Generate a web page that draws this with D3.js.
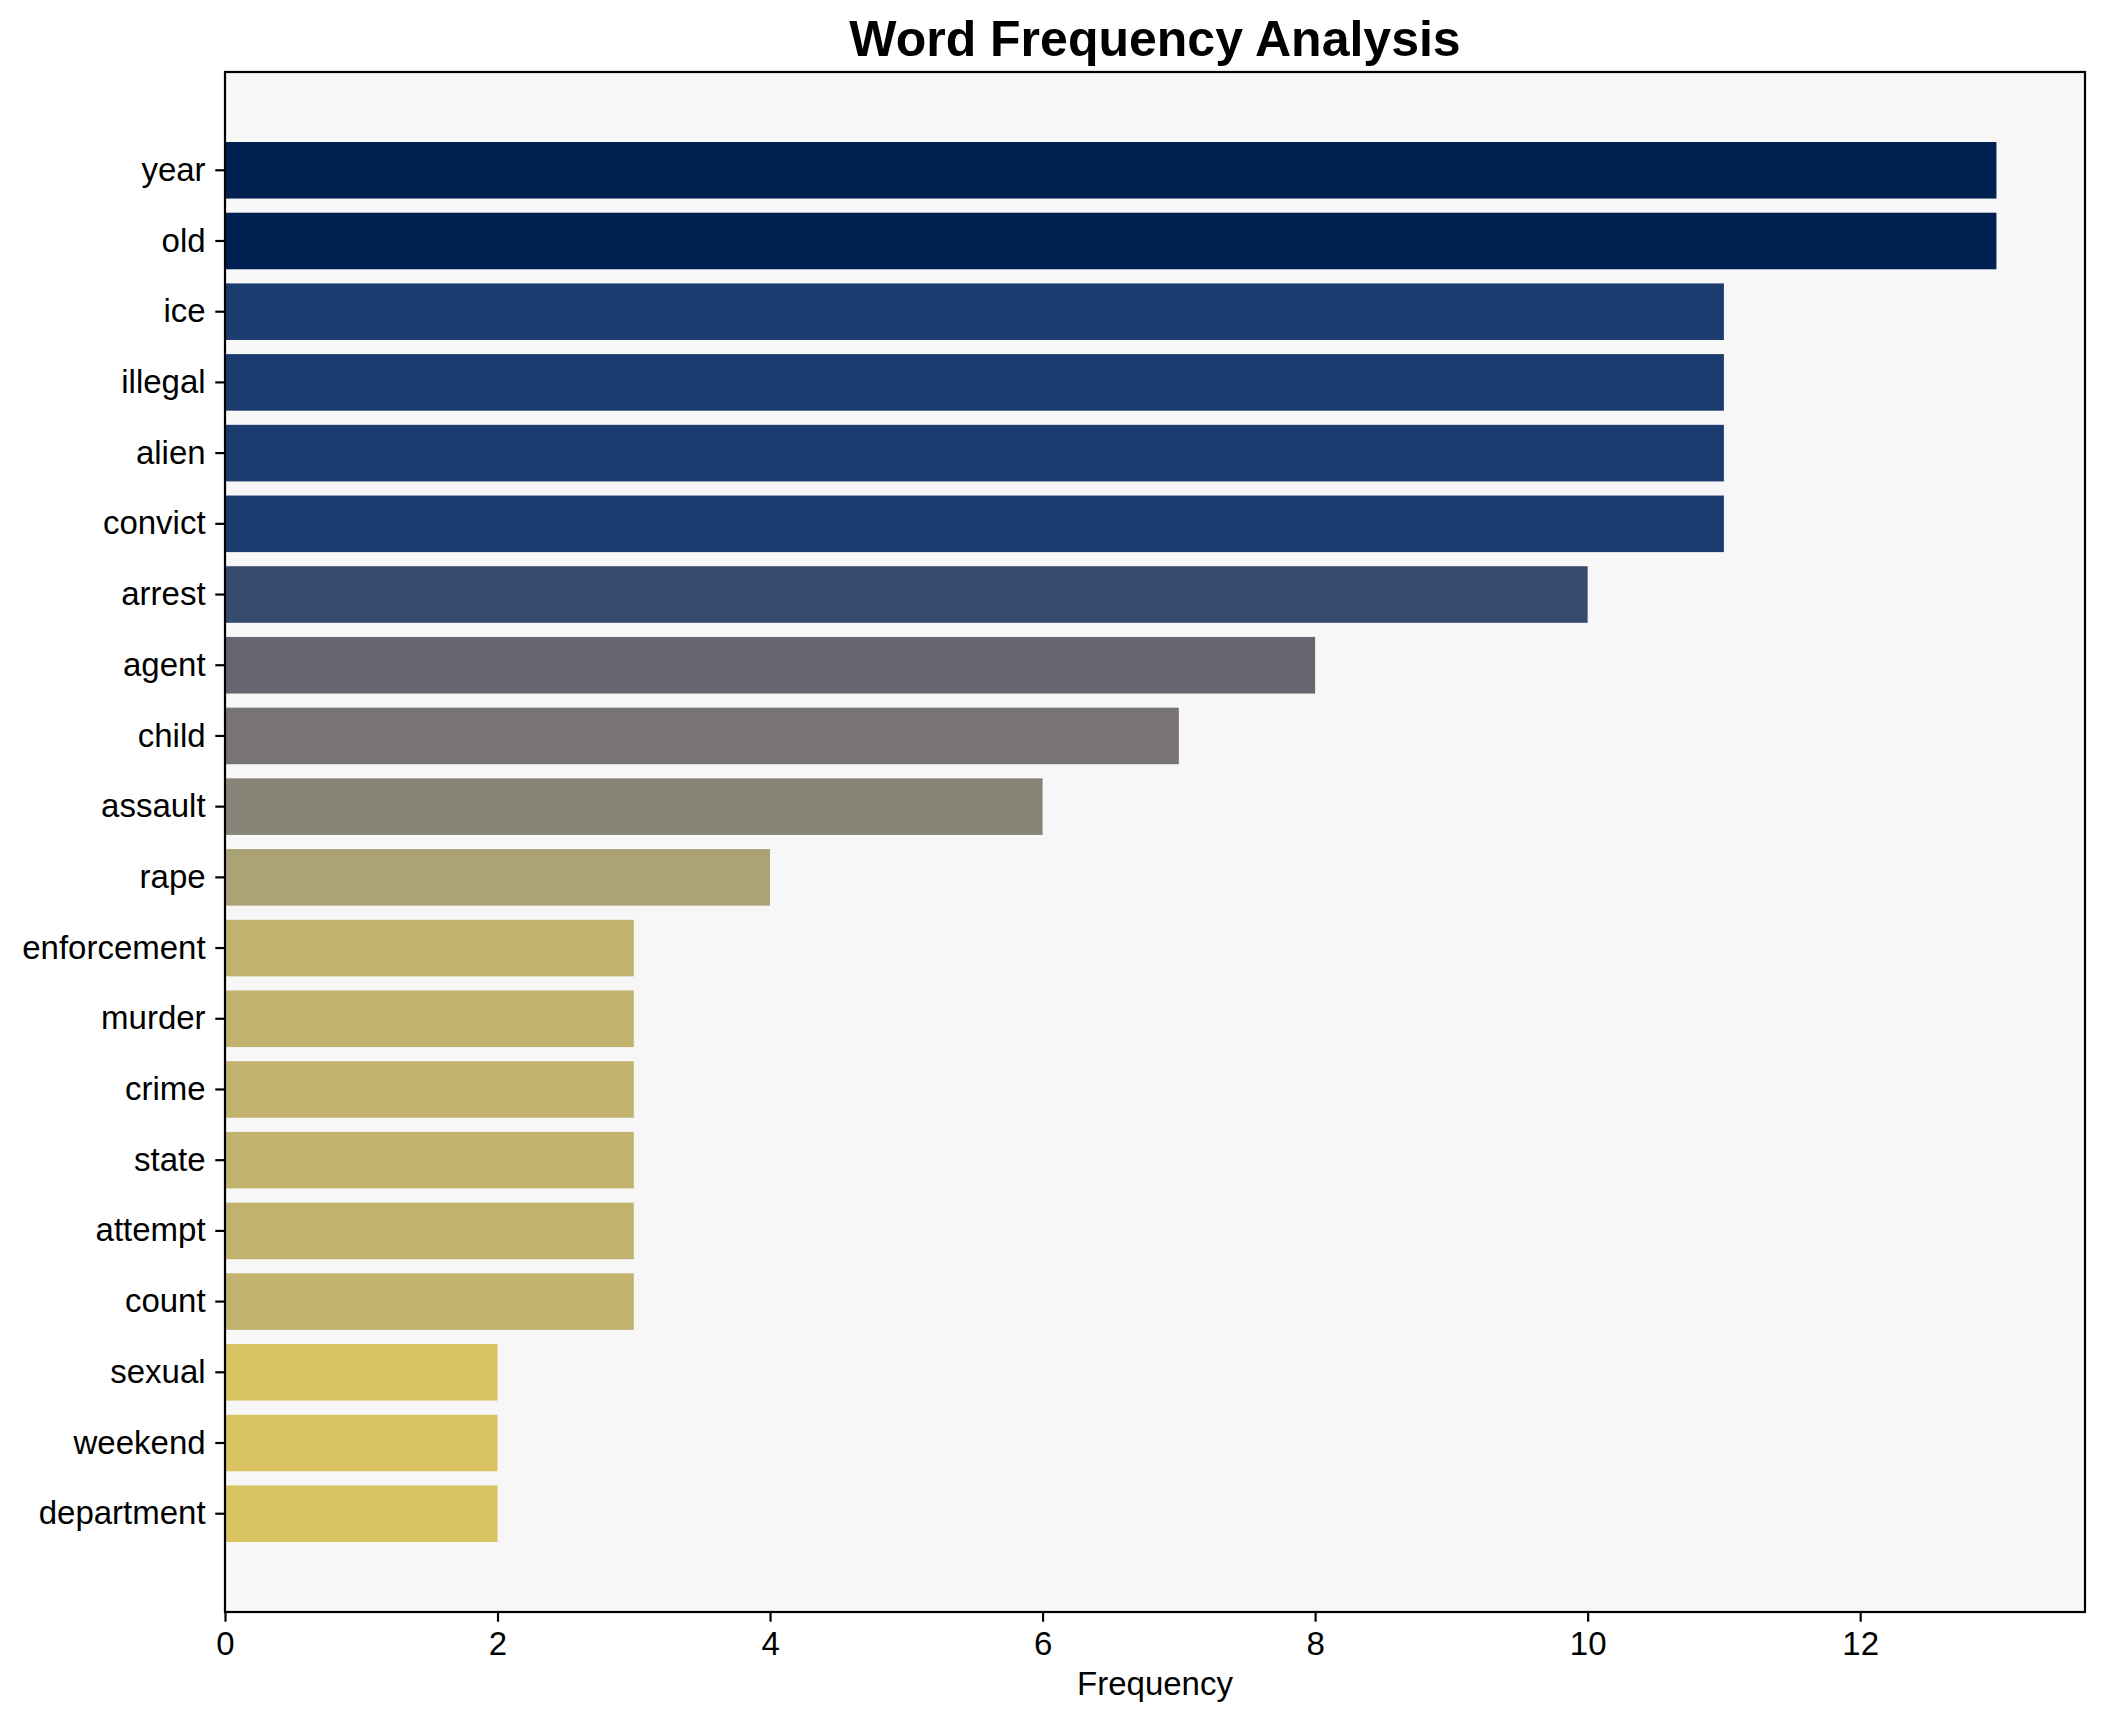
<!DOCTYPE html>
<html>
<head>
  <title>Word Frequency Analysis</title>
  <script src="https://d3js.org/d3.v7.min.js"></script>
  <style>
    body { margin: 0; background: #ffffff; }
    text { font-family: "Liberation Sans", Arial, sans-serif; }
  </style>
</head>
<body>
  <svg id="chart"></svg>
  <script>
    // Words and their counts, top to bottom
    const words = ["year", "old", "ice", "illegal", "alien", "convict", "arrest", "agent", "child", "assault",
                   "rape", "enforcement", "murder", "crime", "state", "attempt", "count", "sexual", "weekend", "department"];
    const counts = [13, 13, 11, 11, 11, 11, 10, 8, 7, 6, 4, 3, 3, 3, 3, 3, 3, 2, 2, 2];
    const xTickValues = [0, 2, 4, 6, 8, 10, 12];

    const data = words.map((w, i) => ({word: w, count: counts[i]}));

    // Define dimensions and margins
    const W = 2104, H = 1722;
    const margin = {top: 72, right: 19, bottom: 110, left: 225},
          width = W - margin.left - margin.right,
          height = H - margin.top - margin.bottom;

    const svg = d3.select("#chart")
      .attr("width", W)
      .attr("height", H);

    const g = svg.append("g")
      .attr("transform", `translate(${margin.left},${margin.top})`);

    // Plot background
    g.append("rect")
      .attr("width", width)
      .attr("height", height)
      .style("fill", "#f7f7f7");

    // Scales
    const maxCount = d3.max(counts);
    const xScale = d3.scaleLinear()
      .domain([0, maxCount * 1.05])
      .range([0, width]);

    const yScale = d3.scaleBand()
      .domain(words)
      .range([0, height])
      .paddingInner(0.2)
      .paddingOuter(0.99);

    // Colour by count, reversed cividis
    const colorScale = d3.scaleSequential(d3.interpolateCividis)
      .domain([maxCount, 0]);

    // Bars
    g.selectAll(".bar")
      .data(data)
      .enter()
      .append("rect")
      .attr("class", "bar")
      .attr("x", 0)
      .attr("y", d => yScale(d.word))
      .attr("width", d => xScale(d.count))
      .attr("height", yScale.bandwidth())
      .style("fill", d => colorScale(d.count));

    // Axes
    const xAxis = d3.axisBottom(xScale)
      .tickValues(xTickValues)
      .tickFormat(d3.format("d"))
      .tickSize(9.7)
      .tickPadding(9.7);

    const yAxis = d3.axisLeft(yScale)
      .tickSize(9.7)
      .tickPadding(9.7);

    const xg = g.append("g")
      .attr("transform", `translate(0,${height})`)
      .call(xAxis);
    const yg = g.append("g")
      .call(yAxis);

    [xg, yg].forEach(a => {
      a.select(".domain").remove();
      a.selectAll(".tick line").style("stroke", "#000").style("stroke-width", 2.2);
      a.selectAll("text")
        .style("font-size", "33px")
        .style("fill", "#000")
        .style("font-family", "'Liberation Sans', Arial, sans-serif");
    });

    // Frame around the plot
    g.append("rect")
      .attr("width", width)
      .attr("height", height)
      .style("fill", "none")
      .style("stroke", "#000")
      .style("stroke-width", 2.2);

    // X axis label
    g.append("text")
      .attr("x", width / 2)
      .attr("y", height + 83)
      .attr("text-anchor", "middle")
      .style("font-size", "33px")
      .text("Frequency");

    // Title
    g.append("text")
      .attr("x", width / 2)
      .attr("y", -16)
      .attr("text-anchor", "middle")
      .style("font-size", "50px")
      .style("font-weight", "bold")
      .text("Word Frequency Analysis");
  </script>
</body>
</html>
